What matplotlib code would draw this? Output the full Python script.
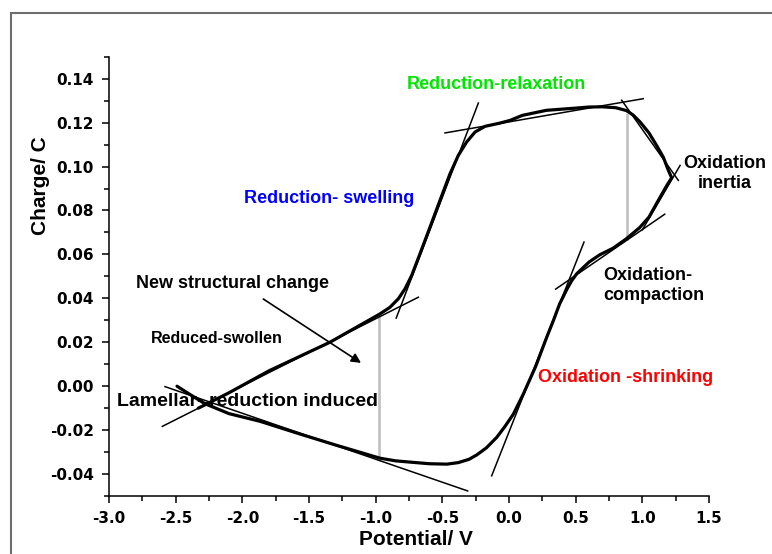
#!/usr/bin/env python3

import sys
import matplotlib
matplotlib.use( 'Agg' )
from matplotlib import pyplot as plt
from matplotlib.patches import Rectangle
from matplotlib.ticker import MultipleLocator

# charge/potential loop, read point by point along the cycle
potential = [ -2.49, -2.40, -2.28, -2.10, -1.867, -1.567, -1.30, -0.967,
              -0.85, -0.717, -0.60, -0.467, -0.38, -0.30, -0.242, -0.17, -0.092, -0.03,
              0.033, 0.108, 0.20, 0.283, 0.333, 0.38, 0.433, 0.47, 0.508, 0.60,
              0.68, 0.78, 0.88, 0.98, 1.05, 1.12, 1.18, 1.22,
              1.195, 1.157, 1.107, 1.05, 0.983, 0.93, 0.88, 0.80, 0.70, 0.60,
              0.50, 0.28, 0.10, 0.0075, -0.0675, -0.18, -0.255, -0.3175, -0.38, -0.4425,
              -0.5175, -0.5925, -0.6675, -0.73, -0.78, -0.83, -0.893, -0.968,
              -1.343, -1.80, -2.10, -2.28, -2.33 ]
charge = [ 0.0000, -0.0035, -0.0080, -0.0125, -0.0160, -0.0218, -0.0268, -0.0328,
           -0.0340, -0.0347, -0.0353, -0.0355, -0.0348, -0.0333, -0.0313, -0.0281, -0.0233, -0.0183,
           -0.0127, -0.0035, 0.0090, 0.0223, 0.0299, 0.0375, 0.0440, 0.0480, 0.0512, 0.0565,
           0.0598, 0.0628, 0.0671, 0.0722, 0.0770, 0.0846, 0.0910, 0.0949,
           0.0983, 0.1043, 0.1096, 0.1153, 0.1203, 0.1235, 0.1255, 0.1268, 0.1272, 0.1271,
           0.1266, 0.1256, 0.1233, 0.1210, 0.1198, 0.1183, 0.1157, 0.1112, 0.1051, 0.0967,
           0.0846, 0.0724, 0.0603, 0.0504, 0.0443, 0.0398, 0.0359, 0.0329,
           0.0200, 0.0070, -0.0030, -0.0085, -0.0100 ]

# tangent lines ( x0, y0, x1, y1 )
tangents = [ ( -0.23, 0.1289, -0.846, 0.0310 ),
             ( -0.48, 0.1153, 1.007, 0.1309 ),
             ( 0.845, 0.1302, 1.27, 0.0937 ),
             ( 1.283, 0.1005, 1.00, 0.0712 ),
             ( 1.168, 0.0783, 0.350, 0.0442 ),
             ( 0.5625, 0.0656, -0.13, -0.0408 ),
             ( -2.58, -0.0002, -0.31, -0.0477 ),
             ( -2.60, -0.0183, -0.68, 0.0405 ) ]

# grey markers between branches ( x, y0, y1 )
markers = [ ( -0.975, -0.0333, 0.0324 ),
            ( 0.883, 0.0671, 0.1235 ) ]

# ( text, x, y, colour, size, ha )
labels = [ ( 'Reduction-relaxation', -0.0975, 0.1374, '#00e600', 13, 'center' ),
           ( 'Reduction- swelling', -1.346, 0.0855, '#0000ff', 13, 'center' ),
           ( 'Oxidation -shrinking', 0.876, 0.0039, '#ff0000', 13, 'center' ),
           ( 'Oxidation\ninertia', 1.62, 0.0969, 'black', 13, 'center' ),
           ( 'Oxidation-\ncompaction', 0.705, 0.0458, 'black', 13, 'left' ),
           ( 'New structural change', -2.80, 0.0466, 'black', 13, 'left' ),
           ( 'Reduced-swollen', -2.6875, 0.0215, 'black', 11.5, 'left' ),
           ( 'Lamellar- reduction induced', -2.9375, -0.0069, 'black', 14, 'left' ) ]

arrow_from = ( -1.843, 0.0397 )
arrow_to = ( -1.110, 0.0106 )

def main( arg ):

    fig = plt.figure( figsize = ( 7.72, 5.54 ), dpi = 100 )
    ax = fig.add_axes( [ 0.1412, 0.1047, 0.7772, 0.7929 ] )

    # outer frame, cut off at right and bottom
    fig.add_artist( Rectangle( ( 10.5 / 772, -0.1 ), 1.2, 1.1 - 13.5 / 554,
                               transform = fig.transFigure, fill = False,
                               edgecolor = '#6e6e6e', linewidth = 1.5 ) )

    for x, y0, y1 in markers:
        ax.plot( [ x, x ], [ y0, y1 ], color = '#c0c0c0', linewidth = 1.9, zorder = 2 )

    for x0, y0, x1, y1 in tangents:
        ax.plot( [ x0, x1 ], [ y0, y1 ], color = 'black', linewidth = 1.1, zorder = 3 )

    ax.plot( potential, charge, color = 'black', linewidth = 2.3,
             solid_joinstyle = 'round', solid_capstyle = 'round', zorder = 4 )

    for text, x, y, colour, size, ha in labels:
        ax.text( x, y, text, color = colour, fontsize = size, ha = ha, va = 'center',
                 family = 'Liberation Sans', fontweight = 'bold', linespacing = 1.2, zorder = 1 )

    ax.annotate( '', xy = arrow_to, xytext = arrow_from,
                 arrowprops = dict( arrowstyle = '-|>', color = 'black', lw = 1.2,
                                    mutation_scale = 14, shrinkA = 0, shrinkB = 0 ) )

    ax.set_xlim( -3.0, 1.5 )
    ax.set_ylim( -0.05, 0.15 )
    ax.xaxis.set_minor_locator( MultipleLocator( 0.25 ) )
    ax.yaxis.set_minor_locator( MultipleLocator( 0.01 ) )
    ax.set_xticks( [ -3.0, -2.5, -2.0, -1.5, -1.0, -0.5, 0.0, 0.5, 1.0, 1.5 ] )
    ax.set_xticklabels( [ '-3.0', '-2.5', '-2.0', '-1.5', '-1.0', '-0.5', '0.0', '0.5', '1.0', '1.5' ] )
    ax.set_yticks( [ -0.04, -0.02, 0.00, 0.02, 0.04, 0.06, 0.08, 0.10, 0.12, 0.14 ] )
    ax.set_yticklabels( [ '-0.04', '-0.02', '0.00', '0.02', '0.04', '0.06', '0.08', '0.10', '0.12', '0.14' ] )

    for side in [ 'top', 'right' ]:
        ax.spines[ side ].set_visible( False )
    for side in [ 'left', 'bottom' ]:
        ax.spines[ side ].set_linewidth( 1.1 )

    ax.tick_params( which = 'major', direction = 'out', length = 5, width = 1.1, pad = 6 )
    ax.tick_params( which = 'minor', direction = 'out', length = 3.5, width = 1.1 )
    for t in ax.get_xticklabels() + ax.get_yticklabels():
        t.set_family( 'DejaVu Sans' )
        t.set_fontweight( 'bold' )
        t.set_fontsize( 11 )

    ax.set_xlabel( 'Potential/ V', family = 'Liberation Sans', fontweight = 'bold', fontsize = 15 )
    ax.set_ylabel( 'Charge/ C', family = 'Liberation Sans', fontweight = 'bold', fontsize = 15 )
    ax.xaxis.set_label_coords( 0.511, -0.078 )
    ax.yaxis.set_label_coords( -0.098, 0.706 )

    fig.savefig( 'out.png', dpi = 100 )
    return 0

if '__main__' == __name__:
    sys.exit( main( sys.argv ) )
